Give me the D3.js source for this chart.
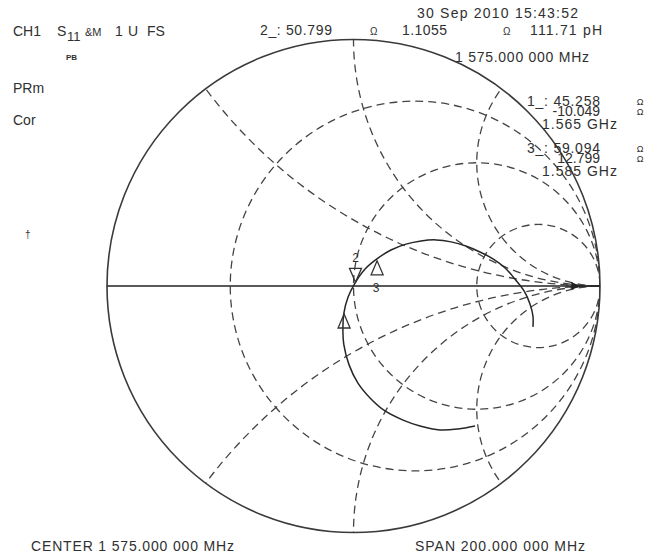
<!DOCTYPE html>
<html><head><meta charset="utf-8">
<script src="https://cdn.jsdelivr.net/npm/d3@7"></script>
<style>
body{margin:0;background:#fff}
svg{display:block}
text{font-family:"Liberation Sans",Arial,sans-serif;fill:#303030}
</style>
</head><body>
<svg id="c" width="657" height="556"></svg>
<script>
// ---- data ----
const resistanceCircles = [1/3, 1, 3];
const reactanceArcs = [0.5, 1, 2, -0.5, -1, -2];
// reflection coefficient of the S11 trace (1475 -> 1675 MHz)
const traceRe = [0.493,0.424,0.351,0.270,0.201,0.128,0.067,0.018,-0.018,-0.039,-0.043,-0.039,-0.022,0.006,0.047,0.095,0.152,0.213,0.274,0.335,0.396,0.456,0.513,0.566,0.615,0.655,0.692,0.716,0.728,0.728];
const traceIm = [-0.568,-0.580,-0.584,-0.568,-0.544,-0.507,-0.454,-0.394,-0.320,-0.239,-0.170,-0.110,-0.045,0.012,0.069,0.110,0.146,0.170,0.183,0.187,0.179,0.162,0.138,0.110,0.073,0.028,-0.020,-0.073,-0.122,-0.166];
// markers (ohms)
const markerNames = ["1", "2", "3"];
const markerR = [45.258, 50.799, 59.094];
const markerX = [-10.049, 1.1055, 12.799];
const markerFreq = ["1.565 GHz", "1 575.000 000 MHz", "1.585 GHz"];
const activeMarker = 1;
const activeEquiv = "111.71 pH";
const refPosition = 0.92;
const headerTexts = ["CH1", "S", "11", "&M", "1", "U", "FS"];
const dateText = "30 Sep 2010  15:43:52";
const sideTexts = ["PRm", "Cor"];
const centerText = "CENTER 1 575.000 000 MHz";
const spanText = "SPAN  200.000 000 MHz";
const Z0 = 50;

// ---- drawing ----
const svg = d3.select("#c");
const x = d3.scaleLinear().domain([-1, 1]).range([107, 600]);
const y = d3.scaleLinear().domain([-1, 1]).range([532.5, 39.5]);
const k = x(1) - x(0);

svg.append("defs").append("clipPath").attr("id", "uc")
  .append("circle").attr("cx", x(0)).attr("cy", y(0)).attr("r", k);

const grid = svg.append("g").attr("clip-path", "url(#uc)")
  .attr("fill", "none").attr("stroke", "#444").attr("stroke-width", 1.3)
  .attr("stroke-dasharray", "8,5");

grid.selectAll("circle.r").data(resistanceCircles).enter().append("circle")
  .attr("class", "r")
  .attr("cx", r => x(r / (1 + r))).attr("cy", y(0))
  .attr("r", r => k / (1 + r));

grid.selectAll("circle.x").data(reactanceArcs).enter().append("circle")
  .attr("class", "x")
  .attr("cx", x(1)).attr("cy", v => y(1 / v))
  .attr("r", v => k / Math.abs(v));

// outer circle and real axis
svg.append("circle").attr("cx", x(0)).attr("cy", y(0)).attr("r", k)
  .attr("fill", "none").attr("stroke", "#3a3a3a").attr("stroke-width", 1.6);
svg.append("line").attr("x1", x(-1)).attr("x2", x(1)).attr("y1", y(0)).attr("y2", y(0))
  .attr("stroke", "#222").attr("stroke-width", 1.5);

// reference arrow
const ax = x(refPosition), ay = y(0);
svg.append("path").attr("d", `M${ax},${ay} L${ax-9},${ay-4} L${ax-9},${ay+4} Z`).attr("fill", "#222");

// trace
const pts = traceRe.map((v, i) => [x(v), y(traceIm[i])]);
svg.append("path").attr("d", d3.line().curve(d3.curveCatmullRom)(pts))
  .attr("fill", "none").attr("stroke", "#262626").attr("stroke-width", 1.5);

// markers
function gamma(R, X) {
  const zr = R / Z0, zi = X / Z0;
  const nr = zr - 1, ni = zi, dr = zr + 1, di = zi;
  const d = dr * dr + di * di;
  return [(nr * dr + ni * di) / d, (ni * dr - nr * di) / d];
}
markerNames.forEach((m, i) => {
  const g = gamma(markerR[i], markerX[i]);
  const px = x(g[0]), py = y(g[1]);
  const dir = i === activeMarker ? -1 : 1;
  svg.append("path")
    .attr("d", `M${px},${py+dir*1} L${px-6},${py+dir*15} L${px+6},${py+dir*15} Z`)
    .attr("fill", "none").attr("stroke", "#333").attr("stroke-width", 1.3);
  if (i === activeMarker) {
    svg.append("text").attr("x", px).attr("y", py - 21).attr("text-anchor", "middle")
      .attr("font-size", 12).text(m);
  } else if (i === 2) {
    svg.append("text").attr("x", px - 1).attr("y", py + 32).attr("text-anchor", "middle")
      .attr("font-size", 12).text(m);
  }
});

// texts
function txt(s, tx, ty, fs, w, extra) {
  const t = svg.append("text").attr("x", tx).attr("y", ty).attr("font-size", fs).text(s);
  if (w) t.attr("textLength", w).attr("lengthAdjust", "spacing");
  if (extra) extra(t);
  return t;
}
txt(headerTexts[0], 13, 36, 14);
txt(headerTexts[1], 57, 36, 14);
txt(headerTexts[2], 67, 41, 13);
txt(headerTexts[3], 85, 36, 11);
txt(headerTexts[4], 115, 36, 14);
txt(headerTexts[5], 128, 36, 14);
txt(headerTexts[6], 147, 36, 14);
txt("PB", 66, 60, 8, null, t => t.attr("font-weight", "bold"));
txt(sideTexts[0], 13, 93, 14);
txt(sideTexts[1], 13, 125, 14);
txt("†", 25, 238, 10, null, t => t.style("fill", "#333"));

txt(dateText, 417, 18, 14, 161);
const am = activeMarker;
txt(markerNames[am] + "_: " + markerR[am].toFixed(3), 260, 35, 14, 72);
txt("Ω", 370, 35, 10);
txt(String(markerX[am]), 402, 35, 14, 45);
txt("Ω", 503, 35, 10);
txt(activeEquiv, 530, 35, 14, 72);
txt(markerFreq[am], 455, 62, 14, 134);

const sideRows = [{i: 0, y0: 106}, {i: 2, y0: 153}];
sideRows.forEach(row => {
  const i = row.i, y0 = row.y0;
  txt(markerNames[i] + "_: " + markerR[i].toFixed(3), 527, y0, 14, 73);
  txt(markerX[i].toFixed(3), 600, y0 + 10, 14, null, t => t.attr("text-anchor", "end"));
  txt(markerFreq[i], 542, y0 + 23, 14, 75);
  txt("Ω", 640, y0 - 1, 9, null, t => t.attr("text-anchor", "middle"));
  txt("Ω", 640, y0 + 9, 9, null, t => t.attr("text-anchor", "middle"));
});

txt(centerText, 31, 551, 14, 203);
txt(spanText, 415, 551, 14, 170);
</script>
</body></html>
